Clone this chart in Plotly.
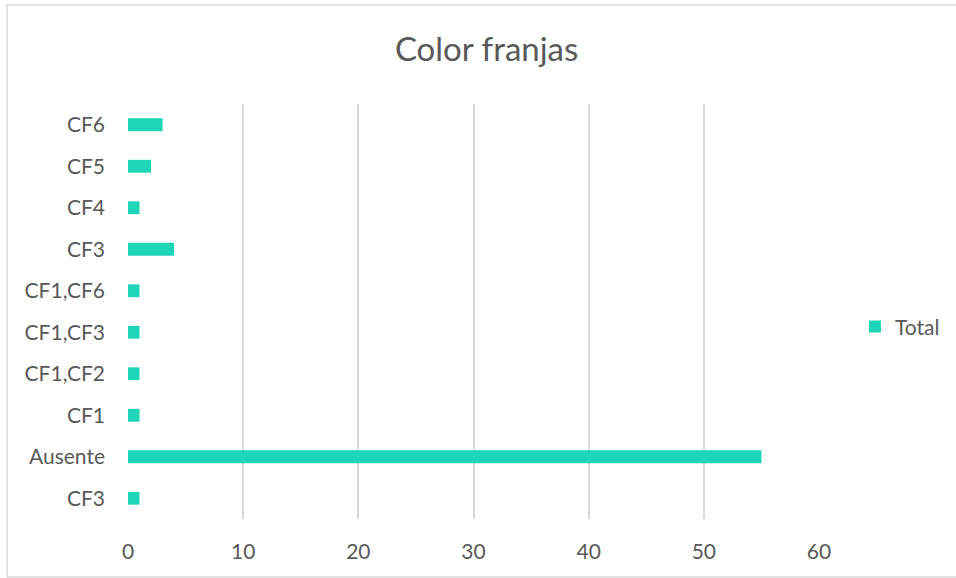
import plotly.graph_objects as go

categories = ["CF3", "Ausente", "CF1", "CF1,CF2", "CF1,CF3", "CF1,CF6", "CF3", "CF4", "CF5", "CF6"]
values = [1, 55, 1, 1, 1, 1, 4, 1, 2, 3]
x_ticks = [0, 10, 20, 30, 40, 50, 60]
positions = list(range(len(categories)))

BAR = "#1fd5b8"
TXT = "#595959"
FONT = "Lato, Open Sans, sans-serif"

fig = go.Figure()
fig.add_trace(go.Bar(
    x=values, y=positions, orientation="h", name="Total",
    marker=dict(color=BAR, line=dict(width=0)), width=0.31,
    showlegend=True,
))

fig.update_layout(
    width=956, height=578,
    margin=dict(l=128, r=137, t=104, b=59, autoexpand=False),
    paper_bgcolor="white", plot_bgcolor="white",
    title=dict(text="Color franjas", x=0.509, xanchor="center", y=0.915, yanchor="middle",
               font=dict(family=FONT, size=33, color=TXT)),
    xaxis=dict(range=[0, 60], tickvals=x_ticks, showgrid=True, gridcolor="#d9d9d9", gridwidth=1.5,
               zeroline=False, showline=False, ticks="",
               tickfont=dict(family=FONT, size=21, color=TXT), ticklabelstandoff=18),
    yaxis=dict(range=[-0.5, 9.5], tickvals=positions, ticktext=categories, showgrid=False,
               zeroline=False, showline=False, ticks="",
               tickfont=dict(family=FONT, size=21, color=TXT), ticklabelstandoff=22),
    legend=dict(x=1.052, y=0.463, xanchor="left", yanchor="middle",
                font=dict(family=FONT, size=21, color=TXT), bgcolor="rgba(0,0,0,0)",
                itemwidth=30),
    shapes=[dict(type="rect", xref="paper", yref="paper", x0=-0.175, x1=1.3, y0=-0.14, y1=1.2386,
                 line=dict(color="#d9d9d9", width=1.5), layer="below")],
)

fig.write_html("out.html")
